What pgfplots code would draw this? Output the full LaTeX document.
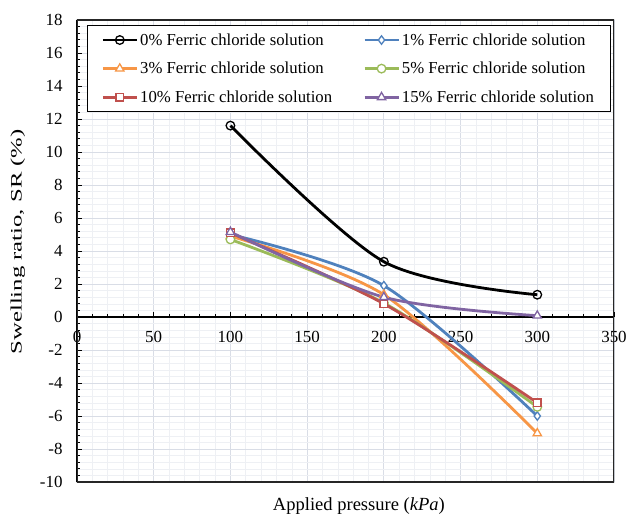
\documentclass[border=0pt]{standalone}
\usepackage{fontspec}
\setmainfont{Liberation Serif}
\usepackage{pgfplots}
\pgfplotsset{compat=1.18}
\definecolor{cblue}{HTML}{4F81BD}
\definecolor{cred}{HTML}{C0504D}
\definecolor{cgreen}{HTML}{9BBB59}
\definecolor{cpurple}{HTML}{8064A2}
\definecolor{corange}{HTML}{F79646}
\definecolor{gridmaj}{HTML}{D9DDE6}
\definecolor{gridmin}{HTML}{EEF0F4}
\newcommand{\fl}{\fontsize{16.8}{19}\selectfont}
\newcommand{\ft}{\fontsize{17}{20}\selectfont}
\newcommand{\fy}{\fontsize{16}{19}\selectfont}
\newcommand{\fx}{\fontsize{18.6}{21}\selectfont}
\begin{document}
\begin{tikzpicture}
\begin{axis}[
  scale only axis, width=537bp, height=462bp,
  xmin=0, xmax=350, ymin=-10, ymax=18,
  xtick={0,50,...,350}, ytick={-10,-8,...,18},
  extra x ticks={0},
  extra x tick style={grid=none},
  minor x tick num=4, minor y tick num=4,
  axis x line*=middle, axis y line*=left,
  grid=both,
  major grid style={color=gridmaj, line width=0.8bp},
  minor grid style={color=gridmin, line width=0.6bp},
  tick align=inside,
  major tick length=5bp, minor tick length=3bp,
  tick style={black, line width=0.8bp},
  x axis line style={black, line width=1.1bp},
  y axis line style={black, line width=1.5bp},
  /pgf/number format/assume math mode=true,
  tick label style={font=\ft},
  yticklabel style={xshift=-11bp},
  xticklabel style={yshift=-11bp},
  xlabel={Applied pressure (\textit{kPa})},
  ylabel={Swelling ratio, SR (\%)},
  xlabel style={font=\fx, at={(axis description cs:0.525,-0.052)}, anchor=center},
  ylabel style={font=\fy, at={(axis description cs:-0.11,0.52)}, anchor=center, xscale=1.55},
  legend columns=2,
  legend cell align=left,
  legend style={font=\fl, at={(axis description cs:0.0186,0.989)}, anchor=north west,
    draw=black, line width=0.8bp, fill=white, row sep=11.5bp, inner xsep=14bp, inner ysep=6bp,
    /tikz/column 2/.style={column sep=29bp}},
  legend image post style={line width=2.8bp},
  legend image code/.code={\draw[mark repeat=2,mark phase=2,#1] plot coordinates {(0bp,0bp) (17bp,0bp) (34bp,0bp)};},
  every axis plot/.append style={smooth},
]
\addplot[black, line width=2.8bp, mark=o, mark size=4.3bp, mark options={fill=white, line width=1.3bp}] coordinates {(100,11.6) (200,3.35) (300,1.35)};
\addlegendentry{0\% Ferric chloride solution}
\addplot[cblue, line width=2.8bp, mark=diamond*, mark size=4.2bp, mark options={fill=white, line width=1.3bp}] coordinates {(100,5.0) (200,1.9) (300,-6.0)};
\addlegendentry{1\% Ferric chloride solution}
\addplot[corange, line width=2.8bp, mark=triangle*, mark size=4.8bp, mark options={fill=white, line width=1.3bp}] coordinates {(100,4.9) (200,1.35) (300,-7.05)};
\addlegendentry{3\% Ferric chloride solution}
\addplot[cgreen, line width=2.8bp, mark=*, mark size=4.3bp, mark options={fill=white, line width=1.3bp}] coordinates {(100,4.7) (200,0.85) (300,-5.45)};
\addlegendentry{5\% Ferric chloride solution}
\addplot[cred, line width=2.8bp, mark=square*, mark size=3.8bp, mark options={fill=white, line width=1.3bp}] coordinates {(100,5.1) (200,0.8) (300,-5.2)};
\addlegendentry{10\% Ferric chloride solution}
\addplot[cpurple, line width=2.8bp, mark=triangle*, mark size=4.8bp, mark options={fill=white, line width=1.3bp}] coordinates {(100,5.15) (200,1.2) (300,0.08)};
\addlegendentry{15\% Ferric chloride solution}
\draw[black!85, line width=1.5bp] (rel axis cs:0,0) rectangle (rel axis cs:1,1);
\end{axis}
\pgfresetboundingbox
\path[use as bounding box] (-77bp,-34bp) rectangle (550bp,482bp);
\end{tikzpicture}
\end{document}
